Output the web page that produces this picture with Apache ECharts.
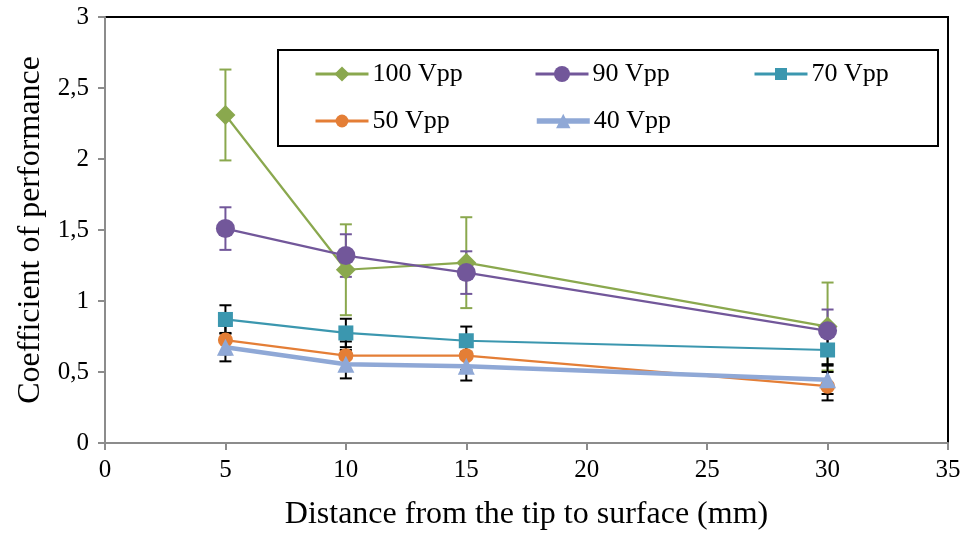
<!DOCTYPE html>
<html>
<head>
<meta charset="utf-8">
<script src="https://cdn.jsdelivr.net/npm/echarts@6/dist/echarts.min.js"></script>
<style>
  html, body { margin: 0; padding: 0; background: #fff; }
  #chart { width: 965px; height: 538px; }
</style>
</head>
<body>
<div id="chart"></div>
<script>
// Distance from the tip to the surface (mm)
const distances = [5, 10, 15, 30];

// Coefficient of performance per drive voltage, with error half-widths
const cop100 = [2.31, 1.22, 1.27, 0.82];
const err100 = [0.32, 0.32, 0.32, 0.31];
const cop90 = [1.51, 1.32, 1.20, 0.79];
const err90 = [0.15, 0.15, 0.15, 0.15];
const cop70 = [0.87, 0.775, 0.72, 0.655];
const err70 = [0.10, 0.10, 0.10, 0.10];
const cop50 = [0.725, 0.615, 0.615, 0.40];
const err50 = [0.10, 0.10, 0.10, 0.10];
const cop40 = [0.675, 0.555, 0.54, 0.445];
const err40 = [0.10, 0.10, 0.10, 0.10];

const seriesNames = ['100 Vpp', '90 Vpp', '70 Vpp', '50 Vpp', '40 Vpp'];

const FONT = '"Liberation Serif", "Times New Roman", serif';

const styles = [
  { color: '#8AA84E', symbol: 'diamond', size: 20, width: 2.2, errColor: '#8AA84E', legendSize: 19, legendWidth: 3 },
  { color: '#72579A', symbol: 'circle', size: 19, width: 2.2, errColor: '#72579A', legendSize: 20, legendWidth: 3 },
  { color: '#3B97AF', symbol: 'rect', size: 15, width: 2.2, errColor: '#000000', legendSize: 15, legendWidth: 3 },
  { color: '#E47E36', symbol: 'circle', size: 15, width: 2.2, errColor: '#000000', legendSize: 16, legendWidth: 3 },
  { color: '#8FA8D6', symbol: 'triangle', size: 17, width: 4.5, errColor: '#000000', legendSize: 18, legendWidth: 5.5 }
];

const values = [cop100, cop90, cop70, cop50, cop40];
const errors = [err100, err90, err70, err50, err40];

function pairs(vals) {
  return distances.map((d, i) => [d, vals[i]]);
}

function errorData(vals, errs) {
  return distances.map((d, i) => [d, vals[i] - errs[i], vals[i] + errs[i]]);
}

function errorSeries(idx) {
  const st = styles[idx];
  return {
    type: 'custom',
    name: seriesNames[idx] + ' error',
    z: 1,
    silent: true,
    data: errorData(values[idx], errors[idx]),
    renderItem: function (params, api) {
      const x = api.value(0);
      const lo = api.coord([x, api.value(1)]);
      const hi = api.coord([x, api.value(2)]);
      const cap = 6;
      const style = { stroke: st.errColor, lineWidth: 2, fill: null };
      return {
        type: 'group',
        children: [
          { type: 'line', shape: { x1: lo[0], y1: lo[1], x2: hi[0], y2: hi[1] }, style: style },
          { type: 'line', shape: { x1: lo[0] - cap, y1: lo[1], x2: lo[0] + cap, y2: lo[1] }, style: style },
          { type: 'line', shape: { x1: hi[0] - cap, y1: hi[1], x2: hi[0] + cap, y2: hi[1] }, style: style }
        ]
      };
    }
  };
}

function lineSeries(idx) {
  const st = styles[idx];
  return {
    type: 'line',
    name: seriesNames[idx],
    z: 3 + idx,
    data: pairs(values[idx]),
    symbol: st.symbol,
    symbolSize: st.size,
    showAllSymbol: true,
    animation: false,
    lineStyle: { color: st.color, width: st.width },
    itemStyle: { color: st.color, borderWidth: 0 },
    emphasis: { disabled: true }
  };
}

const series = [];
for (let i = 0; i < 5; i++) series.push(errorSeries(i));
for (let i = 0; i < 5; i++) series.push(lineSeries(i));

// Legend entries laid out on a 3-column grid inside a framed box
const legendRows = [74, 121];
const legendCols = [314, 534, 753];
const legendSlots = [[0, 0], [0, 1], [0, 2], [1, 0], [1, 1]];
const legends = seriesNames.map((n, i) => {
  const st = styles[i];
  const [r, c] = legendSlots[i];
  return {
    data: [n],
    left: legendCols[c],
    top: legendRows[r] - 13,
    itemWidth: 53,
    itemHeight: st.legendSize,
    itemGap: 0,
    padding: 0,
    selectedMode: false,
    lineStyle: { width: st.legendWidth },
    textStyle: { fontFamily: FONT, fontSize: 26, color: '#000', padding: [0, 0, 0, -1] }
  };
});

const chart = echarts.init(document.getElementById('chart'), null, { renderer: 'canvas' });
chart.setOption({
  animation: false,
  backgroundColor: '#fff',
  grid: { left: 105, top: 17, width: 843, height: 426, show: false },
  xAxis: {
    type: 'value',
    min: 0, max: 35, interval: 5,
    name: 'Distance from the tip to surface (mm)',
    nameLocation: 'middle',
    nameGap: 56,
    nameTextStyle: { fontFamily: FONT, fontSize: 32, color: '#000' },
    axisLine: { lineStyle: { color: '#8C8C8C', width: 2 } },
    axisTick: { show: true, length: 7, lineStyle: { color: '#8C8C8C', width: 2 } },
    axisLabel: { fontFamily: FONT, fontSize: 25, color: '#000', margin: 15 },
    splitLine: { show: false }
  },
  yAxis: {
    type: 'value',
    min: 0, max: 3, interval: 0.5,
    name: 'Coefficient of performance',
    nameLocation: 'middle',
    nameGap: 58,
    nameTextStyle: { fontFamily: FONT, fontSize: 32, color: '#000' },
    axisLine: { lineStyle: { color: '#8C8C8C', width: 2 } },
    axisTick: { show: true, length: 7, lineStyle: { color: '#8C8C8C', width: 2 } },
    axisLabel: {
      fontFamily: FONT, fontSize: 25, color: '#000', margin: 16,
      formatter: v => String(v).replace('.', ',')
    },
    splitLine: { show: false }
  },
  legend: legends,
  graphic: [
    // plot frame: top and right edges
    { type: 'polyline', z: 0, shape: { points: [[105, 17], [948, 17], [948, 443]] },
      style: { stroke: '#000', lineWidth: 2, fill: null } },
    // legend box
    { type: 'rect', z: 0, shape: { x: 278, y: 50, width: 660, height: 96 },
      style: { stroke: '#000', lineWidth: 2, fill: null } }
  ],
  series: series
});
</script>
</body>
</html>
